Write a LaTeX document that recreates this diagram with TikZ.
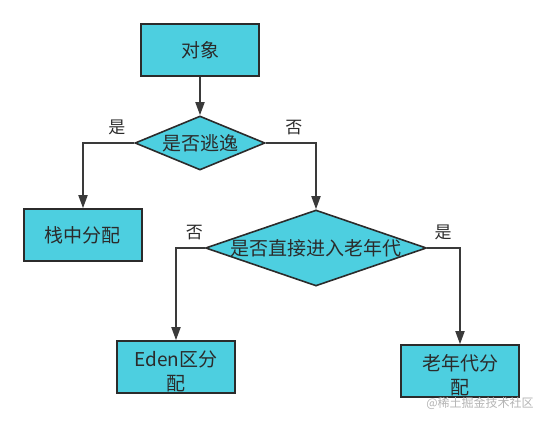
\documentclass[tikz,border=0pt]{standalone}
\usepackage{fontspec}
\setmainfont{Noto Sans CJK SC}
\usepackage{xcolor}
\usepackage{tikz}
\usetikzlibrary{positioning, arrows.meta, shapes.geometric}
\definecolor{ink}     {HTML}{2B2B2B}
\definecolor{wire}    {HTML}{3A3A3A}
\definecolor{cyanfill}{HTML}{4DCFE0}
\definecolor{wmgray}  {HTML}{B4B4B4}

\begin{document}
\begin{tikzpicture}[x=1pt, y=-1pt,
      box/.style={draw=ink, line width=1.6pt, fill=cyanfill,
                  minimum width=118pt, minimum height=52pt, inner sep=0pt,
                  font=\fontsize{19}{24}\selectfont, text=ink},
      txt/.style={font=\fontsize{19}{24}\selectfont, align=center,
                  text=ink, inner sep=0pt},
      dec/.style={diamond, draw=ink, line width=1.6pt, fill=cyanfill, inner sep=0pt},
      yn/.style ={font=\fontsize{17}{20}\selectfont, text=ink, inner sep=0pt, above=7pt},
      wm/.style ={font=\fontsize{12}{14}\selectfont, text=wmgray, inner sep=0pt},
      arr/.style={-{Triangle[length=13pt, width=9pt]}, line width=1.8pt, draw=wire}]

    \useasboundingbox (0,0) rectangle (544,422);

    \node[box] (obj) at (200,50) {对象};
    \node[dec, minimum width=130pt, minimum height=54pt,
          label={[txt]center:是否逃逸}] (esc) at (200,143) {};
    \node[box] (stack) at (83,235) {栈中分配};
    \node[dec, minimum width=221pt, minimum height=76pt,
          label={[txt]center:是否直接进入老年代}] (old) at (316,248) {};
    \node[box, label={[txt, yshift=-4pt]center:{Eden区分\\配}}] (eden) at (176,367) {};
    \node[box, label={[txt, yshift=-4pt]center:{老年代分\\配}}] (tenure) at (460,371) {};
    \node[wm] (wmark) at (480,403) {@稀土掘金技术社区};

    \draw[arr] (obj) -- (esc);
    \draw[arr] (esc.west) -| node[yn, pos=0.17] {是} (stack.north);
    \draw[arr] (esc.east) -| node[yn, pos=0.28] {否} (old.north);
    \draw[arr] (old.west) -| node[yn, pos=0.18] {否} (eden.north);
    \draw[arr] (old.east) -| node[yn, pos=0.24] {是} (tenure.north);
  \end{tikzpicture}
\end{document}
